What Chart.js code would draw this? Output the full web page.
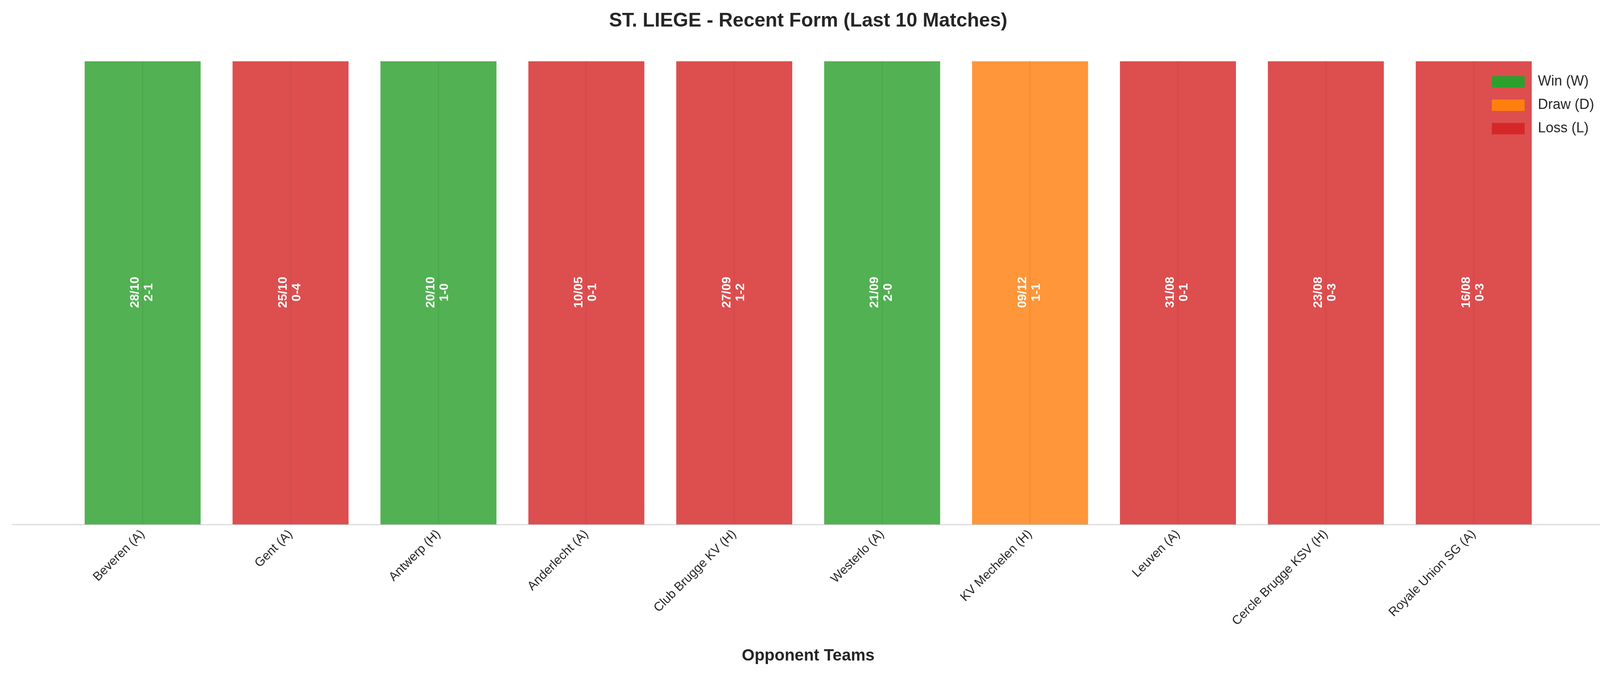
<!DOCTYPE html>
<html><head><meta charset="utf-8">
<script src="https://cdn.jsdelivr.net/npm/chart.js@4"></script>
<style>html,body{margin:0;background:#fff;overflow:hidden}#wrap{width:4170px;height:1770px}</style>
</head><body><div id="wrap"><canvas id="c"></canvas></div>
<script>
const opponents = ['Beveren (A)','Gent (A)','Antwerp (H)','Anderlecht (A)','Club Brugge KV (H)','Westerlo (A)','KV Mechelen (H)','Leuven (A)','Cercle Brugge KSV (H)','Royale Union SG (A)'];
const dates = ['28/10','25/10','20/10','10/05','27/09','21/09','09/12','31/08','23/08','16/08'];
const scores = ['2-1','0-4','1-0','0-1','1-2','2-0','1-1','0-1','0-3','0-3'];
const results = ['W','L','W','L','L','W','D','L','L','L'];
const resultNames = {W:'Win (W)', D:'Draw (D)', L:'Loss (L)'};
const resultColors = {W:'#2ca02c', D:'#ff7f0e', L:'#d62728'};
const resultFill = {W:'rgba(44,160,44,0.82)', D:'rgba(255,127,14,0.82)', L:'rgba(214,39,40,0.82)'};

const datasets = ['W','D','L'].map(r => ({
  label: resultNames[r],
  data: results.map((v,i) => v === r ? {x:i, y:1} : null).filter(Boolean),
  backgroundColor: resultFill[r],
  borderColor: 'rgba(255,255,255,0.75)',
  borderWidth: 3,
  legendColor: resultColors[r]
}));

const overlay = {
  id: 'overlay',
  afterDatasetsDraw(chart) {
    const ctx = chart.ctx, xs = chart.scales.x, ys = chart.scales.y;
    const area = chart.chartArea;
    results.forEach((r,i) => {
      const cx = xs.getPixelForValue(i);
      ctx.save();
      ctx.strokeStyle = 'rgba(0,0,0,0.05)';
      ctx.lineWidth = 3;
      ctx.beginPath(); ctx.moveTo(cx, ys.getPixelForValue(1)); ctx.lineTo(cx, area.bottom); ctx.stroke();
      const cy = ys.getPixelForValue(0.5);
      ctx.translate(cx, cy);
      ctx.rotate(-Math.PI/2);
      ctx.fillStyle = '#fff';
      ctx.font = 'bold 32px "Liberation Sans", Arial, sans-serif';
      ctx.textAlign = 'center';
      ctx.textBaseline = 'middle';
      ctx.fillText(dates[i], 0, -19);
      ctx.fillText(scores[i], 0, 16);
      ctx.restore();
    });
    // legend
    ctx.save();
    ctx.font = '36px "Liberation Sans", Arial, sans-serif';
    ctx.textBaseline = 'middle';
    chart.data.datasets.forEach((d,k) => {
      const y = 209 + k*60;
      ctx.fillStyle = d.legendColor;
      ctx.fillRect(3819, y-14, 84, 29);
      ctx.fillStyle = '#262626';
      ctx.fillText(d.label, 3937, y);
    });
    ctx.restore();
  }
};

new Chart(document.getElementById('c'), {
  type: 'bar',
  data: { datasets },
  plugins: [overlay],
  options: {
    responsive: true, maintainAspectRatio: false, animation: false,
    layout: { padding: { left: 32, right: 64, top: 0, bottom: 60 } },
    datasets: { bar: { grouped: false, categoryPercentage: 1, barPercentage: 0.8 } },
    plugins: {
      legend: { display: false },
      tooltip: { enabled: false },
      title: { display: true, text: 'ST. LIEGE - Recent Form (Last 10 Matches)', color: '#262626',
        font: { size: 50, weight: 'bold', family: '"Liberation Sans", Arial, sans-serif' },
        padding: { top: 24, bottom: 70 } }
    },
    scales: {
      x: { type: 'linear', min: -0.88, max: 9.88, offset: false,
        afterBuildTicks: s => { s.ticks = opponents.map((_,i) => ({value:i})); },
        ticks: { callback: v => opponents[v], maxRotation: 45, minRotation: 45, autoSkip: false,
          color: '#262626', font: { size: 32, family: '"Liberation Sans", Arial, sans-serif' }, padding: 6 },
        grid: { display: false, drawTicks: false },
        border: { display: true, color: '#cccccc', width: 2 },
        title: { display: true, text: 'Opponent Teams', color: '#262626',
          font: { size: 42, weight: 'bold', family: '"Liberation Sans", Arial, sans-serif' }, padding: { top: 39 } } },
      y: { min: 0, max: 1, display: false }
    }
  }
});
</script></body></html>
